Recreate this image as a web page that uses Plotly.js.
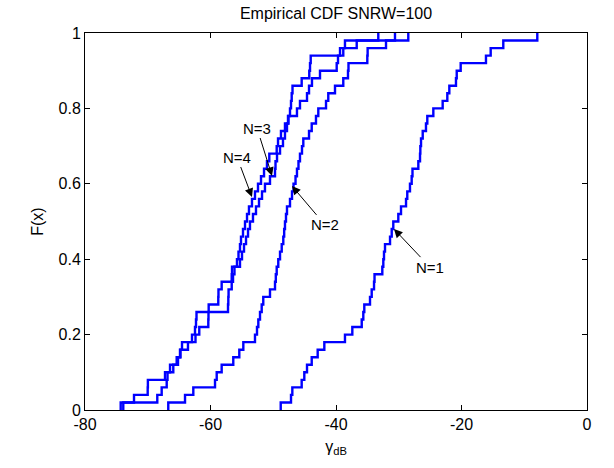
<!DOCTYPE html>
<html>
<head>
<meta charset="utf-8">
<script src="https://cdn.plot.ly/plotly-3.0.1.min.js"></script>
<style>
  html, body { margin: 0; padding: 0; background: #fff; }
  #chart { width: 614px; height: 468px; }
</style>
</head>
<body>
<div id="chart"></div>
<script>
// Sorted SINR samples (dB) for each number of antennas N
const gammaN1 = [-48.81, -47.17, -46.96, -45.47, -45.05, -44.62, -43.87, -42.92, -41.86, -38.57,
  -37.40, -35.90, -35.65, -35.49, -34.58, -34.31, -33.94, -33.86, -32.62, -32.46,
  -32.35, -32.19, -31.39, -31.12, -30.87, -30.07, -29.64, -28.84, -28.64, -28.21,
  -27.94, -27.81, -26.88, -26.61, -26.56, -26.45, -26.18, -25.66, -25.45, -24.49,
  -23.00, -22.26, -21.94, -20.88, -20.76, -20.13, -16.10, -15.35, -13.34, -7.92];

const gammaN2 = [-66.73, -64.06, -62.74, -59.28, -59.01, -58.22, -56.37, -55.41, -54.77, -52.91,
  -52.59, -52.38, -52.11, -51.84, -51.59, -50.52, -49.72, -49.59, -49.45, -49.20,
  -48.92, -48.65, -48.40, -48.26, -48.13, -47.97, -47.81, -47.33, -47.01, -46.77,
  -46.45, -46.22, -45.98, -45.74, -45.42, -45.21, -44.30, -43.87, -43.19, -42.82,
  -41.59, -41.23, -40.16, -38.84, -38.09, -38.01, -35.01, -34.96, -32.03, -28.48];

const gammaN3 = [-73.90, -68.48, -67.78, -66.98, -66.85, -66.45, -65.18, -64.78, -63.59, -62.39,
  -61.79, -60.35, -60.32, -60.29, -58.76, -58.73, -58.22, -56.62, -56.57, -55.30,
  -54.98, -54.66, -54.34, -54.02, -53.71, -53.23, -52.75, -52.27, -51.79, -51.32,
  -50.52, -49.72, -49.64, -49.40, -48.92, -48.45, -48.13, -47.81, -47.57, -46.22,
  -45.74, -44.62, -44.30, -43.83, -42.55, -39.89, -39.68, -39.36, -36.70, -30.60];

const gammaN4 = [-74.31, -72.19, -70.01, -69.98, -67.25, -65.93, -65.39, -64.86, -64.54, -62.95,
  -62.47, -62.31, -62.23, -57.21, -57.16, -57.12, -56.62, -56.41, -56.18, -55.78,
  -55.54, -55.30, -55.14, -54.82, -54.50, -54.18, -53.87, -53.39, -52.91, -52.43,
  -51.95, -51.47, -51.00, -50.63, -49.45, -49.24, -48.77, -48.13, -47.65, -47.33,
  -47.17, -47.06, -46.93, -45.47, -44.26, -44.14, -44.03, -38.84, -38.57, -33.26];

const xTickVals = [-80, -60, -40, -20, 0];
const xTickText = ['-80', '-60', '-40', '-20', '0'];
const yTickVals = [0, 0.2, 0.4, 0.6, 0.8, 1];
const yTickText = ['0', '0.2', '0.4', '0.6', '0.8', '1'];

// Arrow labels: [text, head x, head F, label x, label F]
const labels = [
  ['N=1', -30.76, 0.480, -25.02, 0.379],
  ['N=2', -47.01, 0.594, -41.75, 0.491],
  ['N=3', -50.20, 0.621, -52.59, 0.748],
  ['N=4', -53.39, 0.565, -55.78, 0.671]
];

// Empirical CDF as a staircase: starts at (x1, 0), jumps 1/n at each sample
function ecdfTrace(samples) {
  const n = samples.length;
  const xs = [samples[0]];
  const ys = [0];
  samples.forEach((v, i) => { xs.push(v); ys.push((i + 1) / n); });
  return {
    x: xs, y: ys, type: 'scatter', mode: 'lines',
    line: { shape: 'hv', color: '#0000ff', width: 2.4 },
    hoverinfo: 'x+y', showlegend: false
  };
}

const font = 'Liberation Sans, Arial, Helvetica, sans-serif';

const traces = [gammaN1, gammaN2, gammaN3, gammaN4].map(ecdfTrace);

const annotations = labels.map(([t, hx, hy, lx, ly]) => ({
  text: t, x: hx, y: hy, ax: lx, ay: ly,
  xref: 'x', yref: 'y', axref: 'x', ayref: 'y',
  showarrow: true, arrowhead: 2, arrowsize: 1.7, arrowwidth: 1,
  arrowcolor: '#000', standoff: 0, startstandoff: 0,
  font: { family: font, size: 15, color: '#000' }
}));

const axisCommon = {
  showgrid: false, zeroline: false,
  showline: true, linecolor: '#000', linewidth: 1, mirror: 'ticks',
  ticks: 'inside', ticklen: 5, tickcolor: '#000', tickwidth: 1,
  tickfont: { family: font, size: 16, color: '#000' }
};

const layout = {
  width: 614, height: 468,
  margin: { l: 85, r: 27, t: 33, b: 58 },
  paper_bgcolor: '#fff', plot_bgcolor: '#fff',
  title: {
    text: 'Empirical CDF SNRW=100',
    font: { family: font, size: 16, color: '#000' },
    x: 0.5, xref: 'paper', xanchor: 'center',
    y: 1 - 13 / 468, yref: 'container', yanchor: 'middle'
  },
  xaxis: Object.assign({}, axisCommon, {
    range: [-80, 0], tickmode: 'array', tickvals: xTickVals, ticktext: xTickText,
    title: { text: 'γ<sub>dB</sub>', font: { family: font, size: 16, color: '#000' }, standoff: 8 }
  }),
  yaxis: Object.assign({}, axisCommon, {
    range: [0, 1], tickmode: 'array', tickvals: yTickVals, ticktext: yTickText,
    title: { text: 'F(x)', font: { family: font, size: 16, color: '#000' }, standoff: 10 }
  }),
  annotations: annotations
};

Plotly.newPlot('chart', traces, layout, { displayModeBar: false, staticPlot: true });
</script>
</body>
</html>
